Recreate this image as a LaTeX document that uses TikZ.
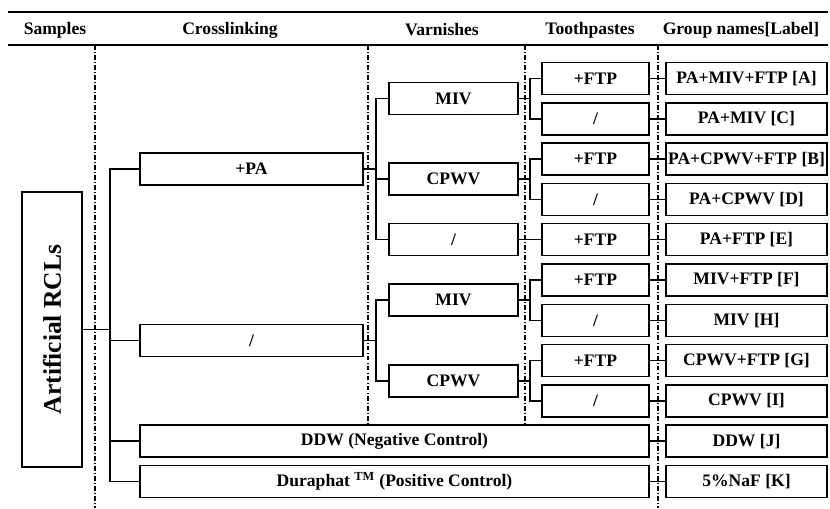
\documentclass[tikz,border=0pt]{standalone}
\usepackage{fontspec}
\setmainfont{Liberation Serif}
\usepackage{tikz}
\usetikzlibrary{positioning, calc}
\tikzstyle{rule} = [line width=1.2pt]
\tikzstyle{link} = [line width=0.9pt]
\tikzstyle{sep} = [line width=0.8pt, dash pattern=on 2.8pt off 1.2pt on 0.5pt off 1.2pt]

\begin{document}
\begin{tikzpicture}[
    box/.style={rectangle, draw, line width=0.9pt, minimum height=0.64cm, inner sep=0pt, outer sep=0pt, font=\bfseries},
    lbox/.style={box, minimum width=3.22cm},
    tbox/.style={box, minimum width=2.14cm},
    vbox/.style={box, minimum width=2.58cm},
    cbox/.style={box, minimum width=4.46cm},
    wbox/.style={box, minimum width=10.18cm},
    head/.style={font=\bfseries},
    node distance=0.166cm and 0.34cm
  ]
    \useasboundingbox (0,0) rectangle (16.6,-10.16);

    % Header
    \draw[rule] (0.16,-0.24) -- (16.56,-0.24);
    \draw[rule] (0.16,-0.90) -- (16.56,-0.90);
    \node[head] (hSamples) at (1.10,-0.60) {Samples};
    \node[head] (hCross) at (4.60,-0.60) {Crosslinking};
    \node[head] (hVarn) at (8.84,-0.60) {Varnishes};
    \node[head] (hTooth) at (11.80,-0.60) {Toothpastes};
    \node[head] (hGroup) at (14.82,-0.60) {Group names[Label]};

    % Group names
    \node[lbox] (lA) at (14.93,-1.57) {PA+MIV+FTP [A]};
    \node[lbox, below=of lA] (lC) {PA+MIV [C]};
    \node[lbox, below=of lC] (lB) {PA+CPWV+FTP [B]};
    \node[lbox, below=of lB] (lD) {PA+CPWV [D]};
    \node[lbox, below=of lD] (lE) {PA+FTP [E]};
    \node[lbox, below=of lE] (lF) {MIV+FTP [F]};
    \node[lbox, below=of lF] (lH) {MIV [H]};
    \node[lbox, below=of lH] (lG) {CPWV+FTP [G]};
    \node[lbox, below=of lG] (lI) {CPWV [I]};
    \node[lbox, below=of lI] (lJ) {DDW [J]};
    \node[lbox, below=of lJ] (lK) {5\%NaF [K]};

    % Toothpastes
    \node[tbox, left=of lA] (tA) {+FTP};
    \node[tbox, left=of lC] (tC) {/};
    \node[tbox, left=of lB] (tB) {+FTP};
    \node[tbox, left=of lD] (tD) {/};
    \node[tbox, left=of lE] (tE) {+FTP};
    \node[tbox, left=of lF] (tF) {+FTP};
    \node[tbox, left=of lH] (tH) {/};
    \node[tbox, left=of lG] (tG) {+FTP};
    \node[tbox, left=of lI] (tI) {/};

    % Controls
    \node[wbox, left=of lJ] (ddw) {DDW (Negative Control)};
    \node[wbox, left=of lK] (dura) {Duraphat \textsuperscript{TM} (Positive Control)};

    % Varnishes
    \coordinate (mMIV1) at ($(tA.west)!0.5!(tC.west)$);
    \coordinate (mCPWV1) at ($(tB.west)!0.5!(tD.west)$);
    \coordinate (mMIV2) at ($(tF.west)!0.5!(tH.west)$);
    \coordinate (mCPWV2) at ($(tG.west)!0.5!(tI.west)$);
    \node[vbox, left=0.48cm of mMIV1] (miv1) {MIV};
    \node[vbox, left=0.48cm of mCPWV1] (cpwv1) {CPWV};
    \node[vbox, left=0.48cm of tE] (nov1) {/};
    \node[vbox, left=0.48cm of mMIV2] (miv2) {MIV};
    \node[vbox, left=0.48cm of mCPWV2] (cpwv2) {CPWV};

    % Crosslinking
    \coordinate (mPA) at ($(miv1.west)!0.5!(nov1.west)$);
    \coordinate (mNone) at ($(miv2.west)!0.5!(cpwv2.west)$);
    \node[cbox, left=0.52cm of mPA] (pa) {+PA};
    \node[cbox, left=0.52cm of mNone] (none) {/};

    % Samples
    \node[box, rotate=90, minimum width=5.5cm, minimum height=1.2cm, font=\fontsize{14.5}{17}\selectfont\bfseries] (root) at (1.04,-6.59) {Artificial RCLs};

    % Column separators
    \foreach \x in {1.90,13.16}
      \draw[sep] (\x,-0.90) -- (\x,-10.16);
    \foreach \x in {7.36,10.50}
      \draw[sep] (\x,-0.90) -- (\x,-8.50);

    % Connectors
    \draw[link] (root.south) -- ++(0.56,0) coordinate (rj);
    \foreach \n in {pa,none,ddw,dura}
      \draw[link] (rj) |- (\n.west);

    \draw[link] (pa.east) -- ++(0.26,0) coordinate (paj);
    \foreach \n in {miv1,cpwv1,nov1}
      \draw[link] (paj) |- (\n.west);
    \draw[link] (none.east) -- ++(0.26,0) coordinate (nj);
    \foreach \n in {miv2,cpwv2}
      \draw[link] (nj) |- (\n.west);

    \draw[link] (miv1.east) -- ++(0.24,0) coordinate (m1j);
    \draw[link] (m1j) |- (tA.west);
    \draw[link] (m1j) |- (tC.west);
    \draw[link] (cpwv1.east) -- ++(0.24,0) coordinate (c1j);
    \draw[link] (c1j) |- (tB.west);
    \draw[link] (c1j) |- (tD.west);
    \draw[link] (nov1) -- (tE);
    \draw[link] (miv2.east) -- ++(0.24,0) coordinate (m2j);
    \draw[link] (m2j) |- (tF.west);
    \draw[link] (m2j) |- (tH.west);
    \draw[link] (cpwv2.east) -- ++(0.24,0) coordinate (c2j);
    \draw[link] (c2j) |- (tG.west);
    \draw[link] (c2j) |- (tI.west);

    \foreach \r in {A,B,C,D,E,F,G,H,I}
      \draw[link] (t\r) -- (l\r);
    \draw[link] (ddw) -- (lJ);
    \draw[link] (dura) -- (lK);
  \end{tikzpicture}
\end{document}
